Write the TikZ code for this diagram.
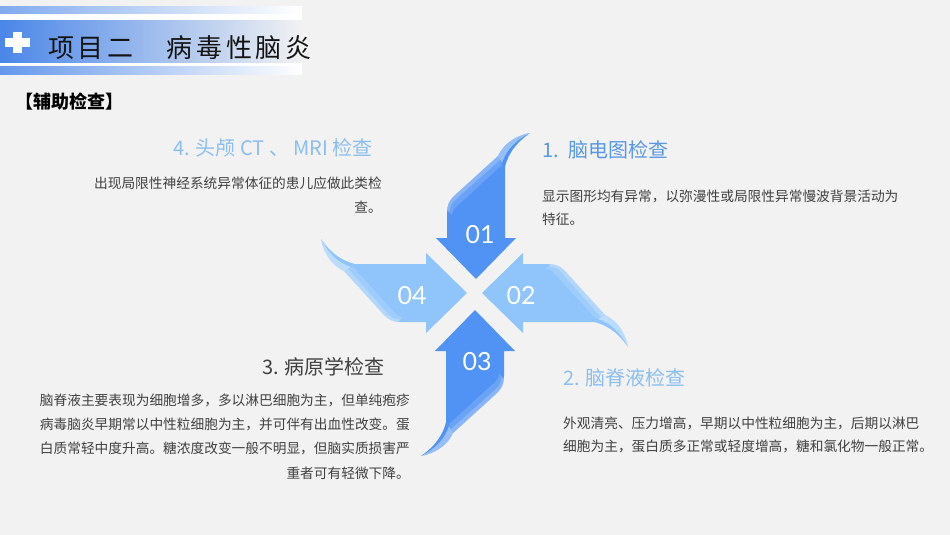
\documentclass[tikz,border=0pt]{standalone}
\usepackage{fontspec}
\newfontfamily\cjk{Noto Sans CJK SC}
\newfontfamily\titlefont[LetterSpace=14]{Noto Sans CJK SC}
\newfontfamily\numfont{Lato}
\definecolor{bg}{RGB}{242,242,242}
\definecolor{hblue}{RGB}{74,134,232}
\definecolor{darkpetal}{RGB}{80,147,245}
\definecolor{lightpetal}{RGB}{143,197,251}
\definecolor{hlight}{RGB}{140,190,240}
\definecolor{hmid}{RGB}{88,152,228}
\definecolor{bodygray}{RGB}{64,64,64}
\definecolor{titleblack}{RGB}{20,20,20}
\newcommand\petal[1]{%
  \fill[#1] (29,-41) -- (40,-41) -- (0,0) -- (-40,-41) -- (-29,-41) -- (-29,-66)
    .. controls (-29,-74) and (-27,-78) .. (-22,-83) -- (22,-123)
    .. controls (27,-134) and (38,-143) .. (54,-146)
    .. controls (44,-139) and (33,-129) .. (29,-112) -- cycle;
  \fill[white,opacity=0.15] (-29,-68) .. controls (-29,-74) and (-27,-78) .. (-22,-83)
    -- (22,-123) -- (26,-114) -- (-20,-72) .. controls (-23,-69) and (-24,-67) .. (-24,-64) -- cycle;
  \fill[white,opacity=0.2] (-29,-68) .. controls (-29,-74) and (-27,-78) .. (-22,-83)
    -- (22,-123) -- (24,-119) -- (-21,-79) .. controls (-25,-75) and (-26,-72) .. (-26,-68) -- cycle;
  \fill[white,opacity=0.4] (22,-123) .. controls (27,-134) and (38,-143) .. (54,-146)
    .. controls (40,-139) and (30,-129) .. (26,-116) -- cycle;
}
\tikzset{
  body/.style={font=\cjk\fontsize{13.7}{16}\selectfont, text=bodygray, inner sep=0pt},
  head/.style={font=\cjk\fontsize{20}{24}\selectfont, inner sep=0pt},
  num/.style={font=\numfont\fontsize{25}{30}\selectfont, text=white, inner sep=0pt}
}
\begin{document}
\begin{tikzpicture}[x=1pt,y=-1pt]
\useasboundingbox (0,0) rectangle (950,535);
\fill[bg] (0,0) rectangle (950,535);
% header
\fill[white] (0,7) rectangle (302,74);
\shade[left color=hblue!70, right color=white] (0,7) rectangle (302,14);
\shade[left color=hblue, right color=bg] (0,21) rectangle (302,63);
\shade[left color=hblue!85, right color=white] (0,67) rectangle (302,74);
\fill[white] (13,32) rectangle (22,53);
\fill[white] (5,38) rectangle (30,47);
\node[anchor=west, font=\titlefont\fontsize{26}{30}\selectfont, text=titleblack, inner sep=0pt] (title) at (48,48) {项目二　病毒性脑炎};
\node[anchor=west, font=\cjk\bfseries\fontsize{18}{22}\selectfont, text=black, inner sep=0pt] (sub) at (15,102) {【辅助检查】};
% petals
\begin{scope}[shift={(476,279)}, x={(1pt,0pt)}, y={(0pt,-1pt)}]
  \petal{darkpetal}
\end{scope}
\begin{scope}[shift={(467,293)}, x={(0pt,1pt)}, y={(1pt,0pt)}]
  \petal{lightpetal}
\end{scope}
\begin{scope}[shift={(482,293)}, x={(0pt,-1pt)}, y={(-1pt,0pt)}]
  \petal{lightpetal}
\end{scope}
\begin{scope}[shift={(475,310)}, x={(-1pt,0pt)}, y={(0pt,1pt)}]
  \petal{darkpetal}
\end{scope}
\node[num] (n1) at (480,235) {01};
\node[num] (n4) at (412,296) {04};
\node[num] (n2) at (521,296) {02};
\node[num] (n3) at (477,362) {03};
% texts
\node[head, text=hlight, anchor=east] (h4) at (373,148) {4. 头颅 CT 、 MRI 检查};
\node[body, anchor=east] (b4a) at (382,183) {出现局限性神经系统异常体征的患儿应做此类检};
\node[body, anchor=east] (b4b) at (382,207) {查。};
\node[head, text=hmid, anchor=west] (h1) at (542,150) {1.\hspace{4pt} 脑电图检查};
\node[body, anchor=west] (b1a) at (542,196) {显示图形均有异常，以弥漫性或局限性异常慢波背景活动为};
\node[body, anchor=west] (b1b) at (542,219) {特征。};
\node[head, text=hlight, anchor=west] (h2) at (563,378) {2. 脑脊液检查};
\node[body, anchor=west] (b2a) at (563,423) {外观清亮、压力增高，早期以中性粒细胞为主，后期以淋巴};
\node[body, anchor=west] (b2b) at (563,446) {细胞为主，蛋白质多正常或轻度增高，糖和氯化物一般正常。};
\node[head, text=bodygray, anchor=east] (h3) at (385,367) {3. 病原学检查};
\node[body, anchor=east] (b3a) at (410,400) {脑脊液主要表现为细胞增多，多以淋巴细胞为主，但单纯疱疹};
\node[body, anchor=east] (b3b) at (410,424) {病毒脑炎早期常以中性粒细胞为主，并可伴有出血性改变。蛋};
\node[body, anchor=east] (b3c) at (410,448) {白质常轻中度升高。糖浓度改变一般不明显，但脑实质损害严};
\node[body, anchor=east] (b3d) at (410,473) {重者可有轻微下降。};
\end{tikzpicture}
\end{document}
